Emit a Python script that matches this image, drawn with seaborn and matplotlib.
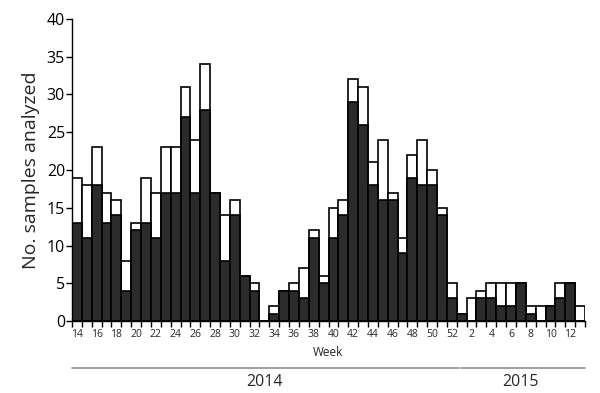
import numpy as np
import pandas as pd
import matplotlib
matplotlib.use('Agg')
import matplotlib.pyplot as plt
import matplotlib.transforms as mtransforms
import seaborn as sns

# weeks: 2014 wk 14-52, 2015 wk 1-13
weeks_2014 = list(range(14, 53))
weeks_2015 = list(range(1, 14))

total_2014 = [19, 18, 23, 17, 16, 8, 13, 19, 17, 23, 23, 31, 24, 34, 17, 14, 16, 6, 5,
              0, 2, 4, 5, 7, 12, 6, 15, 16, 32, 31, 21, 24, 17, 11, 22, 24, 20, 15, 5]
dark_2014 = [13, 11, 18, 13, 14, 4, 12, 13, 11, 17, 17, 27, 17, 28, 17, 8, 14, 6, 4,
             0, 1, 4, 4, 3, 11, 5, 11, 14, 29, 26, 18, 16, 16, 9, 19, 18, 18, 14, 3]
total_2015 = [1, 3, 4, 5, 5, 5, 5, 2, 2, 2, 5, 5, 2]
dark_2015 = [1, 0, 3, 3, 2, 2, 5, 1, 0, 2, 3, 5, 0]

labels = [f'2014-{w}' for w in weeks_2014] + [f'2015-{w}' for w in weeks_2015]
df = pd.DataFrame({'week': labels,
                   'total': total_2014 + total_2015,
                   'dark': dark_2014 + dark_2015})

sns.set_style('ticks')
plt.rcParams['font.family'] = ['Open Sans', 'DejaVu Sans']

fig = plt.figure(figsize=(6, 3.93), dpi=100)
ax = fig.add_axes([0.12, 0.183, 0.855, 0.769])

sns.barplot(data=df, x='week', y='total', order=labels, color='white',
            edgecolor='black', linewidth=1.2, width=1, saturation=1, ax=ax)
sns.barplot(data=df, x='week', y='dark', order=labels, color='#2b2b2b',
            edgecolor='black', linewidth=1.2, width=1, saturation=1, ax=ax)

n = len(labels)
ax.set_xlim(-0.5, n - 0.5)
ax.set_ylim(0, 40)
ax.set_yticks(range(0, 41, 5))
ax.tick_params(axis='y', labelsize=11.5, length=4, width=1, pad=1, colors='black')

# ticks at bar edges, labels on even weeks
ax.set_xticks(np.arange(n + 1) - 0.5, minor=True)
week_nums = weeks_2014 + weeks_2015
major_pos = [i for i, w in enumerate(week_nums) if w % 2 == 0]
ax.set_xticks(major_pos)
ax.set_xticklabels([str(week_nums[i]) for i in major_pos])
ax.tick_params(axis='x', which='major', length=0, labelsize=7.5, pad=6)
ax.tick_params(axis='x', which='minor', length=4, width=1, color='black')

ax.set_xlabel('Week', fontsize=8.5, labelpad=4)
ax.set_ylabel('No. samples analyzed', fontsize=14, labelpad=5)
for s in ['top', 'right']:
    ax.spines[s].set_visible(False)
for s in ['left', 'bottom']:
    ax.spines[s].set_linewidth(1)
    ax.spines[s].set_color('black')

# year brackets under the axis
trans = mtransforms.blended_transform_factory(ax.transData, ax.transAxes)
n14 = len(weeks_2014)
ax.plot([-0.5, n14 - 0.3], [-0.155, -0.155], color='#999999', lw=1.3,
        transform=trans, clip_on=False)
ax.plot([n14 - 0.1, n - 0.5], [-0.155, -0.155], color='#999999', lw=1.3,
        transform=trans, clip_on=False)
ax.text((n14 - 1) / 2, -0.2, '2014', transform=trans, ha='center', va='center',
        fontsize=11.5)
ax.text(n14 + (n - n14 - 1) / 2, -0.2, '2015', transform=trans, ha='center',
        va='center', fontsize=11.5)

fig.savefig('out.png', dpi=100)
